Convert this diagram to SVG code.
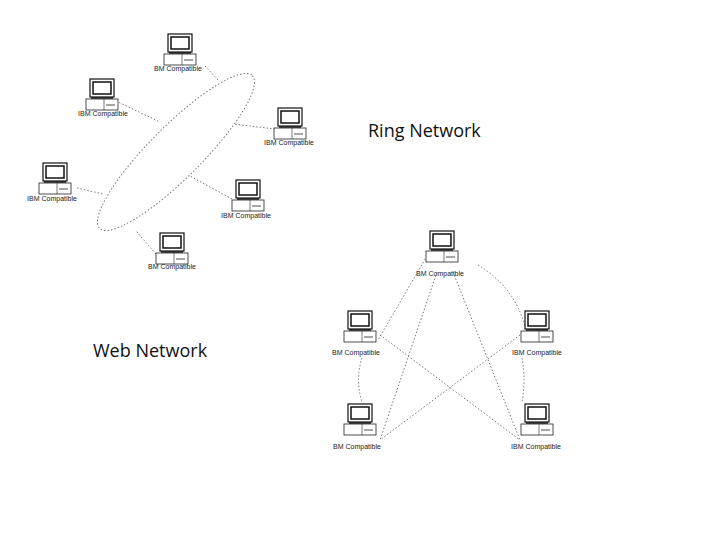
<svg xmlns="http://www.w3.org/2000/svg" xmlns:xlink="http://www.w3.org/1999/xlink" width="720" height="540" viewBox="0 0 720 540">
<style>
.lbl{font-family:"Liberation Sans",Arial,sans-serif;font-size:7px;fill:#222;text-anchor:middle}
.title{font-family:"Open Sans","Liberation Sans",sans-serif;font-size:18px;fill:#111}
.c{fill:none;stroke:#777;stroke-width:1;stroke-dasharray:1.5 2}
</style>
<defs>
<symbol id="pc" overflow="visible">
<rect x="-12" y="0" width="24" height="18" fill="#fff" stroke="#111" stroke-width="1.2"/>
<rect x="-9" y="3" width="18" height="12" fill="#fff" stroke="#111" stroke-width="1.5"/>
<line x1="-11" y1="19" x2="11" y2="19" stroke="#111" stroke-width="1.5"/>
<rect x="-16" y="20" width="32" height="11" fill="#fff" stroke="#222" stroke-width="0.8"/>
<line x1="2" y1="20" x2="2" y2="31" stroke="#222" stroke-width="0.6"/>
<line x1="4" y1="26" x2="13" y2="26" stroke="#222" stroke-width="0.8"/>
</symbol>
</defs>
<rect width="720" height="540" fill="#fff"/>
<g id="connectors">
<ellipse class="c" cx="176" cy="152" rx="108" ry="26" transform="rotate(-45 176 152)"/>
<path class="c" d="M205 66 L218 80"/>
<path class="c" d="M116 101 L160 122"/>
<path class="c" d="M275 129 L233 124"/>
<path class="c" d="M77 188 L103 194"/>
<path class="c" d="M232 199 L190 176"/>
<path class="c" d="M156 254 L136 231"/>
<path class="c" d="M427 256 L378 340"/>
<path class="c" d="M437 272 L380 440"/>
<path class="c" d="M453 272 L520 440"/>
<path class="c" d="M478 265 Q520 290 528 340"/>
<path class="c" d="M380 335 L520 440"/>
<path class="c" d="M520 335 L380 440"/>
<path class="c" d="M362 358 Q355 380 362 402"/>
<path class="c" d="M522 358 Q526 380 522 402"/>
</g>
<g id="r1"><use xlink:href="#pc" x="180" y="34"/><text class="lbl" x="178" y="71">BM Compatible</text></g>
<g id="r2"><use xlink:href="#pc" x="102" y="79"/><text class="lbl" x="103" y="116">IBM Compatible</text></g>
<g id="r3"><use xlink:href="#pc" x="290" y="108"/><text class="lbl" x="289" y="145">IBM Compatible</text></g>
<g id="r4"><use xlink:href="#pc" x="55" y="163"/><text class="lbl" x="52" y="201">IBM Compatible</text></g>
<g id="r5"><use xlink:href="#pc" x="248" y="180"/><text class="lbl" x="246" y="218">IBM Compatible</text></g>
<g id="r6"><use xlink:href="#pc" x="172" y="233"/><text class="lbl" x="172" y="269">BM Compatible</text></g>
<g id="w1"><use xlink:href="#pc" x="442" y="231"/><text class="lbl" x="440" y="276">BM Compatible</text></g>
<g id="w2"><use xlink:href="#pc" x="360" y="311"/><text class="lbl" x="356" y="355">BM Compatible</text></g>
<g id="w3"><use xlink:href="#pc" x="537" y="311"/><text class="lbl" x="537" y="355">IBM Compatible</text></g>
<g id="w4"><use xlink:href="#pc" x="360" y="404"/><text class="lbl" x="357" y="449">BM Compatible</text></g>
<g id="w5"><use xlink:href="#pc" x="537" y="404"/><text class="lbl" x="536" y="449">IBM Compatible</text></g>
<text class="title" x="368" y="137">Ring Network</text>
<text class="title" x="93" y="357">Web Network</text>
</svg>
